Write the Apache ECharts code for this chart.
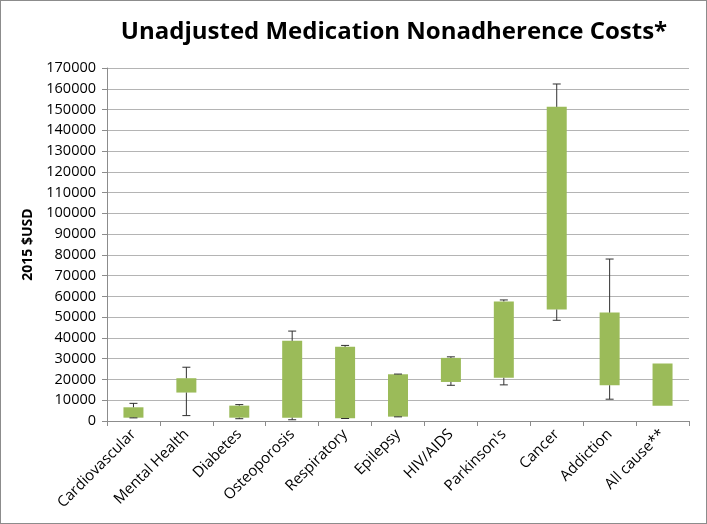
<!DOCTYPE html>
<html>
<head>
<meta charset="utf-8">
<script src="https://cdn.jsdelivr.net/npm/echarts@6/dist/echarts.min.js"></script>
<style>
html,body{margin:0;padding:0;background:#fff;}
#frame{position:absolute;left:0;top:0;width:705px;height:522px;border:1px solid #8c8c8c;}
#chart{position:absolute;left:0;top:0;width:707px;height:524px;}
</style>
</head>
<body>
<div id="frame"></div>
<div id="chart"></div>
<script>
var categories = ['Cardiovascular','Mental Health','Diabetes','Osteoporosis','Respiratory','Epilepsy','HIV/AIDS',"Parkinson's",'Cancer','Addiction','All cause**'];
var boxLow      = [1600, 13700, 1600, 1600, 1300, 2100, 18800, 20800, 53700, 17200, 7300];
var boxHigh     = [6600, 20600, 7400, 38600, 35700, 22500, 30400, 57600, 151300, 52200, 27700];
var whiskerLow  = [1500, 2600, 1100, 600, 1200, 2000, 17200, 17400, 48500, 10500, 7300];
var whiskerHigh = [8500, 25900, 7900, 43300, 36400, 22600, 30900, 58300, 162300, 78000, 27700];
var yTicks = [0,10000,20000,30000,40000,50000,60000,70000,80000,90000,100000,110000,120000,130000,140000,150000,160000,170000];

var font = 'Open Sans';
var chart = echarts.init(document.getElementById('chart'), null, {renderer:'canvas'});
var boxSize = boxHigh.map(function(h,i){ return h - boxLow[i]; });
var whiskerData = categories.map(function(c,i){ return [i, whiskerLow[i], whiskerHigh[i], boxLow[i], boxHigh[i]]; });

chart.setOption({
  animation:false,
  title:{
    text:'Unadjusted Medication Nonadherence Costs*',
    left:389, top:15, textAlign:'center',
    textStyle:{fontFamily:font, fontWeight:'bold', fontSize:24, color:'#000'}
  },
  grid:{left:107, right:18, top:68, bottom:103},
  xAxis:{
    type:'category', data:categories,
    axisLine:{lineStyle:{color:'#8c8c8c', width:1}},
    axisTick:{show:true, length:5, lineStyle:{color:'#8c8c8c'}},
    axisLabel:{rotate:45, interval:0, fontFamily:font, fontSize:15, color:'#000', margin:11}
  },
  yAxis:{
    type:'value', min:yTicks[0], max:yTicks[yTicks.length-1], interval:10000,
    name:'2015 $USD', nameLocation:'middle', nameGap:64, nameRotate:90,
    nameTextStyle:{fontFamily:font, fontWeight:'bold', fontSize:14, color:'#000'},
    axisLine:{show:true, lineStyle:{color:'#8c8c8c'}},
    axisTick:{show:true, length:5, lineStyle:{color:'#8c8c8c'}},
    axisLabel:{fontFamily:font, fontSize:14.5, color:'#000', margin:11, formatter:function(v){return String(v);}},
    splitLine:{lineStyle:{color:'#b4b4b4', width:1.2}}
  },
  series:[
    {type:'bar', stack:'b', data:boxLow, barWidth:20, itemStyle:{color:'rgba(0,0,0,0)'}, silent:true},
    {type:'bar', stack:'b', data:boxSize, barWidth:20, itemStyle:{color:'#9bbb59'}},
    {type:'custom', data:whiskerData, z:5,
      renderItem:function(params, api){
        var x = api.value(0);
        var lo = api.coord([x, api.value(1)]);
        var hi = api.coord([x, api.value(2)]);
        var bl = api.coord([x, api.value(3)]);
        var bh = api.coord([x, api.value(4)]);
        var cap = 4;
        var st = {stroke:'#303030', lineWidth:1};
        var ch = [];
        if (api.value(2) !== api.value(4)) {
          ch.push({type:'line', shape:{x1:hi[0], y1:hi[1], x2:bh[0], y2:bh[1]}, style:st});
          ch.push({type:'line', shape:{x1:hi[0]-cap, y1:hi[1], x2:hi[0]+cap, y2:hi[1]}, style:st});
        }
        if (api.value(1) !== api.value(3)) {
          ch.push({type:'line', shape:{x1:lo[0], y1:lo[1], x2:bl[0], y2:bl[1]}, style:st});
          ch.push({type:'line', shape:{x1:lo[0]-cap, y1:lo[1], x2:lo[0]+cap, y2:lo[1]}, style:st});
        }
        return {type:'group', children:ch};
      }
    }
  ]
});
</script>
</body>
</html>
